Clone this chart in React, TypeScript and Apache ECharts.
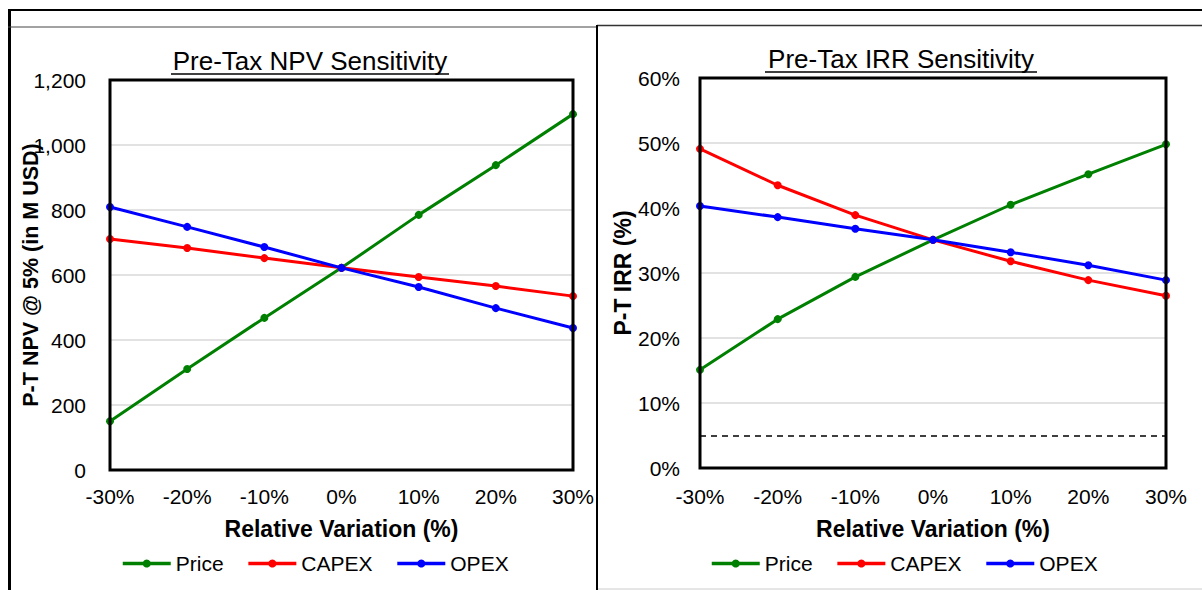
import React, { useEffect, useRef } from "react";
import * as echarts from "echarts";

const variations = ["-30%", "-20%", "-10%", "0%", "10%", "20%", "30%"];
const seriesNames = ["Price", "CAPEX", "OPEX"];
const seriesColors = ["#008000", "#ff0000", "#0000ff"];

// Pre-Tax NPV @ 5% (M USD)
const npvPrice = [150, 311, 468, 622, 785, 938, 1095];
const npvCapex = [711, 683, 652, 622, 594, 566, 535];
const npvOpex = [809, 748, 686, 622, 563, 498, 437];

// Pre-Tax IRR (%)
const irrPrice = [15.1, 22.9, 29.4, 35.1, 40.5, 45.2, 49.8];
const irrCapex = [49.1, 43.5, 38.9, 35.1, 31.8, 28.9, 26.5];
const irrOpex = [40.3, 38.6, 36.8, 35.1, 33.2, 31.2, 28.9];
const hurdleRate = 5;

const npvTicks = { min: 0, max: 1200, interval: 200 };
const irrTicks = { min: 0, max: 60, interval: 10 };

const FONT = "'Liberation Sans', Arial, sans-serif";

export default function App() {
  const ref = useRef<HTMLDivElement>(null);

  useEffect(() => {
    if (!ref.current) return;
    const chart = echarts.init(ref.current, undefined, { renderer: "svg" });

    const labelStyle = { color: "#000", fontSize: 21, fontFamily: FONT };
    const nameStyle = { color: "#000", fontSize: 23, fontWeight: "bold" as const, fontFamily: FONT };

    const mkX = (gridIndex: number) => ({
      type: "category" as const,
      gridIndex,
      data: variations,
      boundaryGap: false,
      axisLine: { show: false },
      axisTick: { show: false },
      axisLabel: { ...labelStyle, margin: gridIndex === 0 ? 16 : 18, interval: 0 },
      name: "Relative Variation (%)",
      nameLocation: "middle" as const,
      nameGap: gridIndex === 0 ? 47 : 49,
      nameMoveOverlap: false,
      nameTextStyle: nameStyle,
    });

    const dataSets = [
      [npvPrice, npvCapex, npvOpex],
      [irrPrice, irrCapex, irrOpex],
    ];

    const series: any[] = [];
    dataSets.forEach((set, gi) => {
      set.forEach((values, si) => {
        const s: any = {
          type: "line",
          name: seriesNames[si],
          xAxisIndex: gi,
          yAxisIndex: gi,
          data: values,
          symbol: "circle",
          symbolSize: 8,
          color: seriesColors[si],
          lineStyle: { width: 3, color: seriesColors[si] },
          itemStyle: { color: seriesColors[si] },
          z: 3 + si,
        };
        if (gi === 1 && si === 0) {
          s.markLine = {
            silent: true,
            symbol: "none",
            label: { show: false },
            lineStyle: { type: [6, 5], color: "#000", width: 1.5 },
            data: [{ yAxis: hurdleRate }],
          };
        }
        series.push(s);
      });
    });

    const legendCommon = {
      orient: "horizontal" as const,
      itemWidth: 48,
      itemHeight: 10,
      itemGap: 23,
      lineStyle: { width: 3.5 },
      textStyle: { ...labelStyle },
      data: seriesNames,
    };

    chart.setOption({
      animation: false,
      backgroundColor: "#fff",
      grid: [
        { left: 110, top: 80, width: 463, height: 390, show: true, borderColor: "#000", borderWidth: 3, backgroundColor: "transparent", z: 10 },
        { left: 700, top: 78, width: 466, height: 390, show: true, borderColor: "#000", borderWidth: 3, backgroundColor: "transparent", z: 10 },
      ],
      xAxis: [mkX(0), mkX(1)],
      yAxis: [
        {
          type: "value",
          gridIndex: 0,
          ...npvTicks,
          axisLine: { show: false },
          axisTick: { show: false },
          splitLine: { lineStyle: { color: "#d9d9d9", width: 1.5 } },
          axisLabel: {
            ...labelStyle,
            margin: 24,
            formatter: (v: number) => v.toLocaleString("en-US"),
          },
          name: "P-T NPV @ 5% (in M USD)",
          nameLocation: "middle",
          nameGap: 68,
          nameMoveOverlap: false,
          nameTextStyle: { ...nameStyle, fontSize: 21.5 },
        },
        {
          type: "value",
          gridIndex: 1,
          ...irrTicks,
          axisLine: { show: false },
          axisTick: { show: false },
          splitLine: { lineStyle: { color: "#d9d9d9", width: 1.5 } },
          axisLabel: { ...labelStyle, margin: 20, formatter: "{value}%" },
          name: "P-T IRR (%)",
          nameLocation: "middle",
          nameGap: 66,
          nameMoveOverlap: false,
          nameTextStyle: nameStyle,
        },
      ],
      legend: [
        { ...legendCommon, left: 116, top: 548 },
        { ...legendCommon, left: 705, top: 548 },
      ],
      series,
      graphic: [
        { type: "line", shape: { x1: 8, y1: 10, x2: 1202, y2: 10 }, style: { stroke: "#000", lineWidth: 2 } },
        { type: "line", shape: { x1: 9.5, y1: 10, x2: 9.5, y2: 590 }, style: { stroke: "#000", lineWidth: 3 } },
        { type: "line", shape: { x1: 8, y1: 27, x2: 597, y2: 27 }, style: { stroke: "#444", lineWidth: 1 } },
        { type: "line", shape: { x1: 597, y1: 25.5, x2: 1202, y2: 25.5 }, style: { stroke: "#333", lineWidth: 1.5 } },
        { type: "line", shape: { x1: 597, y1: 25, x2: 597, y2: 590 }, style: { stroke: "#000", lineWidth: 2 } },
        { type: "line", shape: { x1: 598, y1: 589, x2: 1202, y2: 589 }, style: { stroke: "#ccc", lineWidth: 1 } },
        {
          type: "text",
          x: 310,
          y: 61,
          style: { text: "Pre-Tax NPV Sensitivity", fill: "#000", fontSize: 26, fontFamily: FONT, align: "center", verticalAlign: "middle" },
        },
        { type: "line", shape: { x1: 171, y1: 74, x2: 449, y2: 74 }, style: { stroke: "#000", lineWidth: 1.3 } },
        {
          type: "text",
          x: 901,
          y: 59,
          style: { text: "Pre-Tax IRR Sensitivity", fill: "#000", fontSize: 26, fontFamily: FONT, align: "center", verticalAlign: "middle" },
        },
        { type: "line", shape: { x1: 765, y1: 72, x2: 1037, y2: 72 }, style: { stroke: "#000", lineWidth: 1.3 } },
      ],
    });

    return () => chart.dispose();
  }, []);

  return (
    <div
      ref={ref}
      style={{ position: "fixed", left: 0, top: 0, width: 1202, height: 590, background: "#fff" }}
    />
  );
}
